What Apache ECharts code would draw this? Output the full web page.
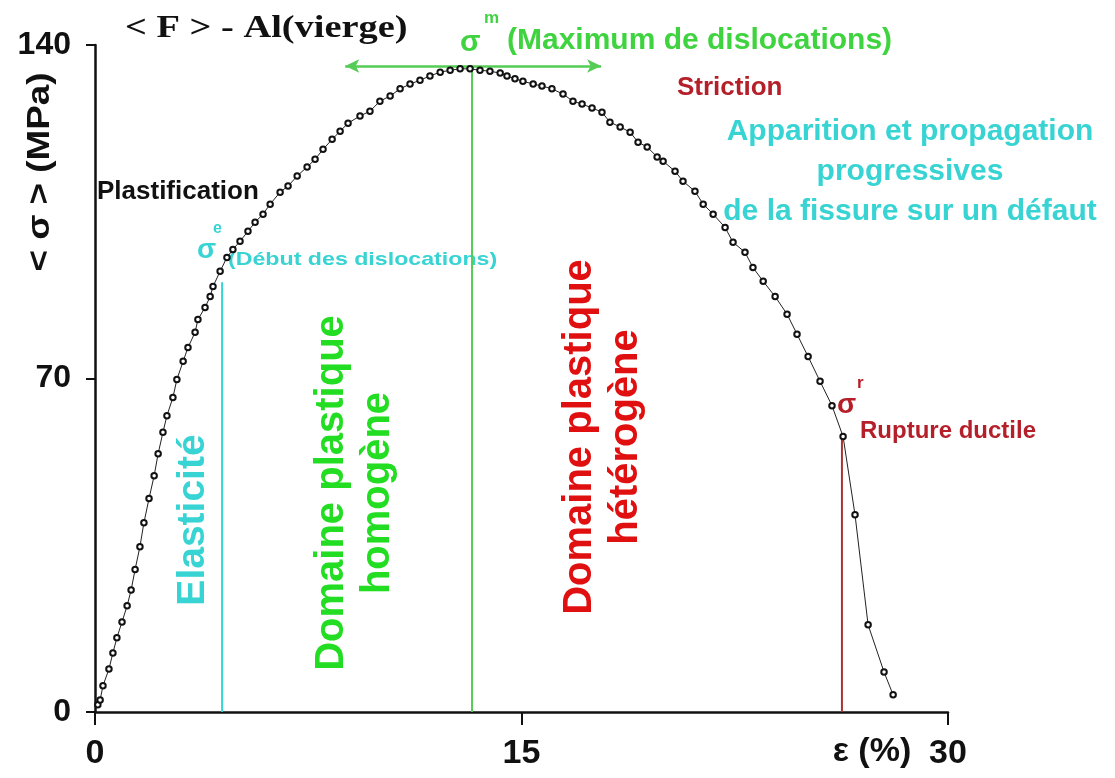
<!DOCTYPE html>
<html>
<head>
<meta charset="utf-8">
<script src="https://cdn.jsdelivr.net/npm/echarts@6/dist/echarts.min.js"></script>
<style>
  html, body { margin: 0; padding: 0; background: #ffffff; }
  #chart { width: 1115px; height: 778px; }
</style>
</head>
<body>
<div id="chart"></div>
<script>
// Tensile curve of virgin aluminium: strain (%) vs mean stress (MPa)
const strain = [
  0.10, 0.18, 0.28, 0.49, 0.63, 0.77, 0.95, 1.13, 1.27, 1.41, 1.58, 1.72, 1.90, 2.08,
  2.22, 2.39, 2.53, 2.74, 2.88, 3.10, 3.27, 3.52, 3.62, 3.87, 4.05, 4.15, 4.40, 4.64,
  4.85, 5.10, 5.38, 5.63, 5.91, 6.16, 6.51, 6.79, 7.11, 7.46, 7.74, 8.02, 8.34, 8.62,
  8.90, 9.32, 9.67, 10.02, 10.38, 10.73, 11.08, 11.43, 11.78, 12.14, 12.49, 12.84, 13.19,
  13.54, 13.89, 14.25, 14.49, 14.77, 15.05, 15.41, 15.72, 16.07, 16.46, 16.81, 17.13,
  17.48, 17.83, 18.11, 18.47, 18.82, 19.10, 19.42, 19.77, 19.98, 20.40, 20.68, 21.10,
  21.39, 21.74, 22.16, 22.44, 22.86, 23.14, 23.50, 23.92, 24.34, 24.69, 25.08, 25.50,
  25.92, 26.31, 26.73, 27.19, 27.75, 28.07
];
const stress = [
  1.5, 2.5, 5.5, 9.0, 12.4, 15.6, 18.9, 22.3, 25.6, 29.9, 34.7, 39.7, 44.8, 49.6,
  54.2, 58.7, 62.2, 66.0, 69.8, 73.6, 76.5, 79.7, 82.4, 84.9, 87.2, 89.3, 92.5, 95.4,
  97.1, 98.8, 100.9, 102.8, 104.5, 106.6, 109.1, 110.4, 112.5, 114.4, 116.0, 118.1, 120.2, 121.9,
  123.6, 125.1, 126.1, 128.2, 129.3, 130.8, 131.8, 132.6, 133.5, 134.3, 134.7, 135.0, 135.0,
  134.7, 134.5, 134.1, 133.5, 132.9, 132.4, 131.8, 131.4, 130.8, 129.7, 128.2, 127.6,
  126.8, 125.9, 123.8, 122.8, 121.7, 119.6, 118.6, 116.5, 115.6, 113.5, 111.4, 109.3,
  106.6, 104.5, 101.7, 98.6, 96.5, 93.3, 90.4, 87.2, 83.5, 79.3, 74.6, 69.4,
  64.3, 57.8, 41.4, 18.3, 8.4, 3.6
];

// Characteristic stresses: elastic limit, maximum, rupture  [strain, stress]
const sigmaE = [4.47, 90.2];
const sigmaM = [13.26, 135.6];
const sigmaR = [26.27, 57.8];
// Span of the double arrow around the maximum
const arrowSpan = [8.8, 17.8];

const xTicks = [0, 15, 30];
const yTicks = [0, 70, 140];

const curve = strain.map((e, i) => [e, stress[i]]);

const chart = echarts.init(document.getElementById('chart'), null, { renderer: 'canvas' });

const sans = '"Liberation Sans", Arial, sans-serif';
const cyan = '#38d3d3';
const green = '#3fd43f';
const lineGreen = '#55cc55';
const darkRed = '#b51f2a';
const red = '#e01010';

function vline(p, color) {
  return {
    type: 'line', data: [[p[0], 0], [p[0], p[1]]], symbol: 'none', silent: true,
    lineStyle: { color: color, width: 2 }, z: 1, animation: false
  };
}

function label(x, y, text, size, fill, extra) {
  const style = Object.assign({ text: text, font: 'bold ' + size + 'px ' + sans, fill: fill, verticalAlign: 'middle' }, (extra && extra.style) || {});
  const el = { type: 'text', x: x, y: y, style: style };
  if (extra) {
    ['rotation', 'scaleX', 'scaleY'].forEach(k => { if (extra[k] !== undefined) el[k] = extra[k]; });
  }
  return el;
}

const option = {
  animation: false,
  backgroundColor: '#ffffff',
  grid: { left: 95, right: 167, top: 45, bottom: 66, containLabel: false },
  xAxis: {
    type: 'value', min: xTicks[0], max: xTicks[2], interval: xTicks[1] - xTicks[0],
    axisLine: { show: true, lineStyle: { color: '#111', width: 2.5 } },
    axisTick: { show: true, inside: false, length: 13, lineStyle: { color: '#111', width: 2 } },
    axisLabel: { margin: 25, fontSize: 34, fontWeight: 'bold', color: '#111', fontFamily: sans },
    splitLine: { show: false }
  },
  yAxis: {
    type: 'value', min: yTicks[0], max: yTicks[2], interval: yTicks[1] - yTicks[0],
    axisLine: { show: true, lineStyle: { color: '#111', width: 2.5 } },
    axisTick: { show: true, inside: false, length: 9, lineStyle: { color: '#111', width: 2 } },
    axisLabel: { margin: 24, fontSize: 32, fontWeight: 'bold', color: '#111', fontFamily: sans },
    splitLine: { show: false }
  },
  series: [
    vline(sigmaE, cyan),
    vline(sigmaM, lineGreen),
    vline(sigmaR, '#a83535'),
    {
      type: 'line', data: [], symbol: 'none', silent: true,
      markLine: {
        silent: true, symbol: ['arrow', 'arrow'], symbolSize: [10, 14],
        label: { show: false },
        lineStyle: { color: lineGreen, width: 2.5, type: 'solid' },
        data: [[{ coord: [arrowSpan[0], sigmaM[1]] }, { coord: [arrowSpan[1], sigmaM[1]] }]]
      }
    },
    {
      type: 'line', data: curve, z: 5,
      symbol: 'emptyCircle', symbolSize: 5.5, showSymbol: true,
      itemStyle: { color: '#111', borderWidth: 1.2 },
      lineStyle: { color: '#222', width: 1 }
    }
  ],
  graphic: [
    // title
    { type: 'text', x: 125, y: 29, scaleX: 1.2,
      style: { text: '< F > - Al(vierge)', font: 'bold 32px "Liberation Serif", "Times New Roman", serif', fill: '#111', verticalAlign: 'middle' } },
    // y-axis name
    label(40, 172, '< σ > (MPa)', 32, '#111', { rotation: Math.PI / 2, scaleX: 1.15, style: { align: 'center' } }),
    // x-axis name
    label(872, 752, 'ε (%)', 34, '#111', { style: { align: 'center' } }),
    // maximum stress
    label(460, 43, 'σ', 30, green),
    label(484, 18, 'm', 17, green),
    label(507, 41, '(Maximum de dislocations)', 30, green),
    // necking
    label(677, 88, 'Striction', 26, darkRed),
    // crack propagation note
    label(910, 172, 'Apparition et propagation\nprogressives\nde la fissure sur un défaut', 30, cyan, { style: { align: 'center', lineHeight: 40 } }),
    // yield
    label(97, 192, 'Plastification', 26, '#111'),
    label(197, 250, 'σ', 28, cyan),
    label(213, 229, 'e', 16, cyan),
    label(228, 260, '(Début des dislocations)', 19, cyan, { scaleX: 1.22 }),
    // rupture
    label(837, 405, 'σ', 28, darkRed),
    label(857, 383, 'r', 17, darkRed),
    label(860, 431, 'Rupture ductile', 24, darkRed),
    // domain labels (vertical)
    label(193, 520, 'Elasticité', 39, cyan, { rotation: Math.PI / 2, style: { align: 'center' } }),
    label(355, 493, 'Domaine plastique\nhomogène', 40, '#22dd22', { rotation: Math.PI / 2, style: { align: 'center', lineHeight: 46 } }),
    label(603, 437, 'Domaine plastique\nhétérogène', 40, red, { rotation: Math.PI / 2, style: { align: 'center', lineHeight: 46 } })
  ]
};

chart.setOption(option);
</script>
</body>
</html>
